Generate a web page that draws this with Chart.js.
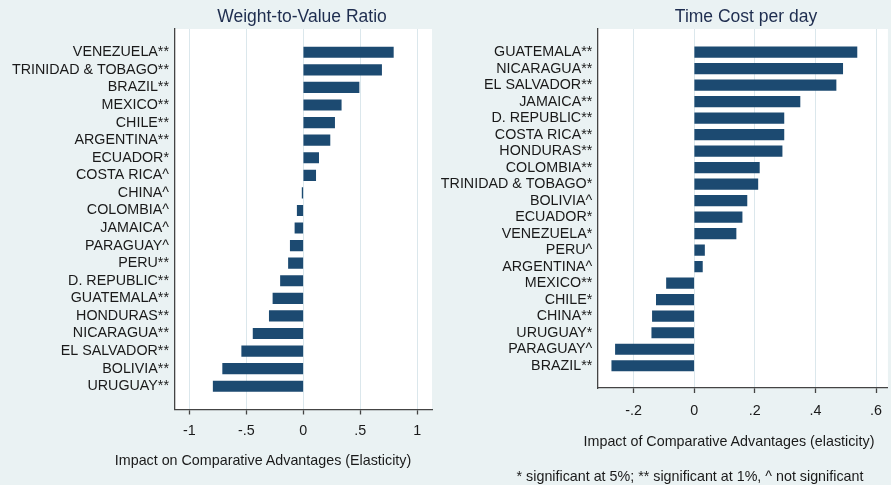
<!DOCTYPE html>
<html>
<head>
<meta charset="utf-8">
<script src="https://cdn.jsdelivr.net/npm/chart.js@4.4.1/dist/chart.umd.min.js"></script>
<style>
  html, body { margin: 0; padding: 0; background: #eaf2f3; }
  body { width: 891px; height: 485px; position: relative; overflow: hidden; font-family: "Liberation Sans", Arial, sans-serif; }
  canvas { position: absolute; top: 0; }
  .txt { position: absolute; white-space: nowrap; line-height: 1; transform: translateX(-50%); color: #1a1a1a; font-size: 14.3px; }
  .ttl { font-size: 17.5px; color: #1e2d4f; }
</style>
</head>
<body>
<canvas id="leftChart" width="434" height="485" style="left:0"></canvas>
<canvas id="rightChart" width="457" height="485" style="left:434px"></canvas>

<div class="txt ttl" style="left:302px;top:8px">Weight-to-Value Ratio</div>
<div class="txt ttl" style="left:746px;top:8px">Time Cost per day</div>
<div class="txt" style="left:263px;top:453px">Impact on Comparative Advantages (Elasticity)</div>
<div class="txt" style="left:729px;top:434px">Impact of Comparative Advantages (elasticity)</div>
<div class="txt" style="left:690px;top:469px">* significant at 5%; ** significant at 1%, ^ not significant</div>

<script>
var weightCountries = ['VENEZUELA**', 'TRINIDAD & TOBAGO**', 'BRAZIL**', 'MEXICO**', 'CHILE**',
    'ARGENTINA**', 'ECUADOR*', 'COSTA RICA^', 'CHINA^', 'COLOMBIA^', 'JAMAICA^', 'PARAGUAY^',
    'PERU**', 'D. REPUBLIC**', 'GUATEMALA**', 'HONDURAS**', 'NICARAGUA**', 'EL SALVADOR**',
    'BOLIVIA**', 'URUGUAY**'];
var weightValues = [0.79, 0.687, 0.489, 0.333, 0.275, 0.234, 0.135, 0.109, -0.01, -0.053, -0.073,
    -0.114, -0.13, -0.2, -0.266, -0.298, -0.44, -0.54, -0.707, -0.79];
var weightTicks = [-1, -0.5, 0, 0.5, 1];

var timeCountries = ['GUATEMALA**', 'NICARAGUA**', 'EL SALVADOR**', 'JAMAICA**', 'D. REPUBLIC**',
    'COSTA RICA**', 'HONDURAS**', 'COLOMBIA**', 'TRINIDAD & TOBAGO*', 'BOLIVIA^', 'ECUADOR*',
    'VENEZUELA*', 'PERU^', 'ARGENTINA^', 'MEXICO**', 'CHILE*', 'CHINA**', 'URUGUAY*',
    'PARAGUAY^', 'BRAZIL**'];
var timeValues = [0.537, 0.49, 0.468, 0.349, 0.296, 0.296, 0.29, 0.215, 0.21, 0.174, 0.158, 0.138,
    0.034, 0.027, -0.0915, -0.125, -0.138, -0.14, -0.26, -0.272];
var timeTicks = [-0.2, 0, 0.2, 0.4, 0.6];

var BAR = '#1c4a71';
var GRID = '#dbe7ec';
var AXIS = '#444';
var FONT = { family: '"Liberation Sans", Arial, sans-serif', size: 14.3 };

// white plot region, like the Stata graph region
var plotBg = {
    id: 'plotBg',
    beforeDraw: function (chart) {
        var a = chart.chartArea, ctx = chart.ctx;
        ctx.save();
        ctx.fillStyle = '#ffffff';
        ctx.fillRect(a.left, a.top, a.right - a.left, a.bottom - a.top);
        ctx.restore();
    }
};

function fmt(v) {
    if (v === 0) return '0';
    return (v < 0 ? '-' : '') + String(Math.abs(v)).replace(/^0\./, '.');
}

function makeChart(id, countries, values, ticks, o) {
    return new Chart(document.getElementById(id), {
        type: 'bar',
        data: {
            datasets: [{
                data: values.map(function (v, i) { return { x: v, y: i }; }),
                backgroundColor: BAR,
                barThickness: 10.5
            }]
        },
        plugins: [plotBg],
        options: {
            responsive: false,
            animation: false,
            indexAxis: 'y',
            layout: { padding: { top: 29, right: o.padRight, bottom: 0, left: 0 } },
            plugins: { legend: { display: false }, tooltip: { enabled: false } },
            scales: {
                y: {
                    type: 'linear',
                    reverse: true,
                    offset: false,
                    min: o.yMin, max: o.yMax,
                    afterFit: function (s) { s.width = o.yWidth; },
                    afterBuildTicks: function (s) {
                        s.ticks = countries.map(function (c, i) { return { value: i }; });
                    },
                    grid: { display: false, drawTicks: false, offset: false },
                    border: { display: true, color: AXIS, width: 1.3 },
                    ticks: {
                        autoSkip: false,
                        padding: o.yPad,
                        color: '#1a1a1a',
                        font: FONT,
                        callback: function (v) { return countries[v]; }
                    }
                },
                x: {
                    type: 'linear',
                    min: o.xMin, max: o.xMax,
                    afterFit: function (s) { s.height = o.xHeight; },
                    afterBuildTicks: function (s) {
                        s.ticks = ticks.map(function (t) { return { value: t }; });
                    },
                    grid: { color: GRID, lineWidth: 1, tickLength: 5, tickColor: AXIS, tickWidth: 1.3 },
                    border: { display: true, color: AXIS, width: 1.3 },
                    ticks: {
                        padding: o.xPad,
                        color: '#1a1a1a',
                        font: FONT,
                        maxRotation: 0,
                        callback: function (v) { return fmt(v); }
                    }
                }
            }
        }
    });
}

makeChart('leftChart', weightCountries, weightValues, weightTicks, {
    yWidth: 175, yPad: 6, padRight: 2, xHeight: 75.5, xPad: 8,
    xMin: -1.125, xMax: 1.129, yMin: -1.325, yMax: 20.325
});

makeChart('rightChart', timeCountries, timeValues, timeTicks, {
    yWidth: 163.3, yPad: 5, padRight: 0, xHeight: 97, xPad: 9,
    xMin: -0.3198, xMax: 0.6392, yMin: -1.4, yMax: 20.35
});
</script>
</body>
</html>
